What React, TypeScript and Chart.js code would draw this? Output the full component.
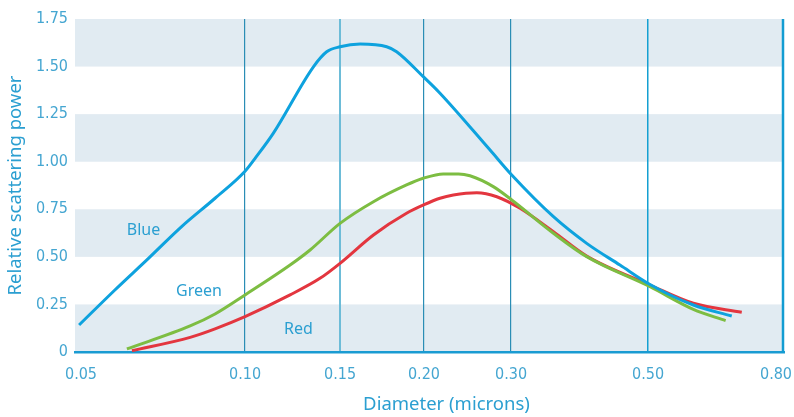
import React, { useEffect, useRef } from "react";
import { Chart, registerables, LinearScale } from "chart.js";

// ---- data ----
const X_TICKS = [0.05, 0.1, 0.15, 0.2, 0.3, 0.5, 0.8];
const X_TICK_LABELS = ["0.05", "0.10", "0.15", "0.20", "0.30", "0.50", "0.80"];
const Y_TICKS = [0, 0.25, 0.5, 0.75, 1.0, 1.25, 1.5, 1.75];
const Y_TICK_LABELS = ["0", "0.25", "0.50", "0.75", "1.00", "1.25", "1.50", "1.75"];

const blueD = [0.0496, 0.0577, 0.0665, 0.0765, 0.0881, 0.1, 0.1044, 0.1128, 0.1339, 0.1417, 0.15, 0.1607, 0.176, 0.1821, 0.1995, 0.2155, 0.2721, 0.3008, 0.3514, 0.3978, 0.4503, 0.5037, 0.5906, 0.68];
const blueV = [0.142, 0.326, 0.492, 0.659, 0.808, 0.95, 1.018, 1.149, 1.499, 1.578, 1.604, 1.618, 1.604, 1.578, 1.447, 1.36, 1.061, 0.93, 0.711, 0.571, 0.457, 0.355, 0.247, 0.189];

const greenD = [0.0607, 0.0793, 0.0881, 0.1, 0.1212, 0.132, 0.15, 0.1682, 0.1884, 0.1995, 0.2188, 0.2350, 0.2478, 0.2762, 0.3008, 0.3514, 0.3978, 0.5037, 0.5906, 0.665];
const greenV = [0.016, 0.137, 0.2, 0.3, 0.457, 0.536, 0.676, 0.79, 0.878, 0.913, 0.936, 0.936, 0.926, 0.869, 0.799, 0.624, 0.501, 0.343, 0.224, 0.165];

const redD = [0.062, 0.0793, 0.0881, 0.1, 0.1212, 0.1377, 0.15, 0.1682, 0.1884, 0.1995, 0.2155, 0.2293, 0.2558, 0.2808, 0.3102, 0.3514, 0.3978, 0.5037, 0.5906, 0.7055];
const redV = [0.007, 0.077, 0.122, 0.186, 0.3, 0.387, 0.466, 0.615, 0.729, 0.772, 0.808, 0.825, 0.837, 0.816, 0.755, 0.632, 0.504, 0.352, 0.256, 0.209];

const SERIES_NAMES = ["Blue", "Green", "Red"];
const SERIES_COLORS = ["#0ea2de", "#7dbd42", "#e3363f"];
// label anchors in data units (diameter, value)
const LABEL_D = [0.0651, 0.0823, 0.1256];
const LABEL_V = [0.641, 0.318, 0.116];

// ---- styling / layout ----
const TEXT_BLUE = "#2b9fd1";
const TICK_BLUE = "#45a6d1";
const BAND = "#e1ebf2";
const NARROW = "'Liberation Sans Narrow', 'DejaVu Sans Condensed', 'Arial Narrow', sans-serif";
const SANS = "'Noto Sans', 'Open Sans', sans-serif";
// fraction of plot width where each x tick sits (the original axis is hand-spaced)
const WARP_DEC = [0.00846, 0.2398, 0.3738, 0.4922, 0.615, 0.8082, 0.9887];

function warp(d: number): number {
  const L = Math.log(d);
  let i = 0;
  while (i < X_TICKS.length - 2 && L > Math.log(X_TICKS[i + 1])) i++;
  const l0 = Math.log(X_TICKS[i]);
  const l1 = Math.log(X_TICKS[i + 1]);
  return WARP_DEC[i] + ((L - l0) / (l1 - l0)) * (WARP_DEC[i + 1] - WARP_DEC[i]);
}
function unwarp(f: number): number {
  let i = 0;
  while (i < WARP_DEC.length - 2 && f > WARP_DEC[i + 1]) i++;
  const l0 = Math.log(X_TICKS[i]);
  const l1 = Math.log(X_TICKS[i + 1]);
  return Math.exp(l0 + ((f - WARP_DEC[i]) / (WARP_DEC[i + 1] - WARP_DEC[i])) * (l1 - l0));
}

class WarpScale extends LinearScale {
  static id = "warp";
  static defaults = {};
  buildTicks() {
    return X_TICKS.map((v) => ({ value: v }));
  }
  getPixelForValue(v: number) {
    if (v === null || v === undefined || isNaN(v)) return NaN;
    return this.getPixelForDecimal(warp(v));
  }
  getValueForPixel(p: number) {
    return unwarp(this.getDecimalForPixel(p));
  }
}

Chart.register(...registerables, WarpScale as any);

const toPoints = (d: number[], v: number[]) => d.map((x, i) => ({ x, y: v[i] }));

const X_GRID_COLORS = ["rgba(0,0,0,0)", "#2a8db5", "#6dbcd8", "#2a8db5", "#2a8db5", "#14a0d2", "rgba(0,0,0,0)"];
const X_GRID_WIDTHS = [1, 1.2, 2, 1.2, 1.2, 1.5, 1];

const bandsPlugin = {
  id: "bands",
  beforeDraw(chart: any) {
    const { ctx, chartArea, scales } = chart;
    const y = scales.y;
    ctx.save();
    ctx.fillStyle = BAND;
    for (let i = 0; i < Y_TICKS.length - 1; i += 2) {
      const top = y.getPixelForValue(Y_TICKS[i + 1]);
      const bot = y.getPixelForValue(Y_TICKS[i]);
      ctx.fillRect(chartArea.left, top, chartArea.right - chartArea.left, bot - top);
    }
    ctx.restore();
  },
  afterDraw(chart: any) {
    const { ctx, chartArea, scales } = chart;
    ctx.save();
    ctx.strokeStyle = "#129cd2";
    ctx.lineWidth = 2.5;
    ctx.beginPath();
    ctx.moveTo(chartArea.right - 1, chartArea.top);
    ctx.lineTo(chartArea.right - 1, chartArea.bottom + 1);
    ctx.stroke();
    ctx.fillStyle = TEXT_BLUE;
    ctx.textAlign = "center";
    ctx.textBaseline = "middle";
    ctx.font = `16px ${SANS}`;
    SERIES_NAMES.forEach((n, i) => {
      ctx.fillText(n, scales.x.getPixelForValue(LABEL_D[i]), scales.y.getPixelForValue(LABEL_V[i]));
    });
    ctx.font = `18.5px ${SANS}`;
    ctx.fillText("Diameter (microns)", (chartArea.left + chartArea.right) / 2 + 17, 405);
    ctx.restore();
  },
};

export default function App() {
  const ref = useRef<HTMLCanvasElement | null>(null);
  useEffect(() => {
    if (!ref.current) return;
    const chart = new Chart(ref.current, {
      type: "line",
      data: {
        datasets: [
          { label: SERIES_NAMES[0], data: toPoints(blueD, blueV), borderColor: SERIES_COLORS[0] },
          { label: SERIES_NAMES[1], data: toPoints(greenD, greenV), borderColor: SERIES_COLORS[1] },
          { label: SERIES_NAMES[2], data: toPoints(redD, redV), borderColor: SERIES_COLORS[2] },
        ].map((ds) => ({
          ...ds,
          borderWidth: 3,
          pointRadius: 0,
          fill: false,
          cubicInterpolationMode: "monotone" as const,
        })),
      },
      options: {
        animation: false,
        responsive: false,
        layout: { padding: { top: 19, right: 10, left: 0, bottom: 0 } },
        plugins: { legend: { display: false }, tooltip: { enabled: false } },
        scales: {
          x: {
            type: "warp" as any,
            grid: {
              drawTicks: false,
              color: (c: any) => X_GRID_COLORS[c.index] ?? "rgba(0,0,0,0)",
              lineWidth: (c: any) => X_GRID_WIDTHS[c.index] ?? 1,
            },
            border: { display: true, color: "#1a9bd2", width: 2.5 },
            ticks: {
              autoSkip: false,
              maxRotation: 0,
              padding: 13,
              color: TICK_BLUE,
              font: { family: NARROW, size: 16 },
              callback: (_v: any, i: number) => X_TICK_LABELS[i],
            },
            title: { display: false },
            afterFit: (s: any) => {
              s.height = 65;
              s.paddingLeft = 0;
              s.paddingRight = 0;
            },
          },
          y: {
            min: 0,
            max: 1.75,
            afterBuildTicks: (s: any) => {
              s.ticks = Y_TICKS.map((v) => ({ value: v }));
            },
            grid: { display: false, drawTicks: false },
            border: { display: false },
            ticks: {
              padding: 7,
              color: TICK_BLUE,
              font: { family: NARROW, size: 16 },
              callback: (_v: any, i: number) => Y_TICK_LABELS[i],
            },
            title: {
              display: true,
              text: "Relative scattering power",
              color: TEXT_BLUE,
              font: { family: SANS, size: 18.5 },
              padding: { top: 5, bottom: 0 },
            },
            afterFit: (s: any) => {
              s.width = 75;
              s.paddingTop = 0;
              s.paddingBottom = 0;
            },
          },
        },
      },
      plugins: [bandsPlugin],
    });
    return () => chart.destroy();
  }, []);
  return (
    <div style={{ position: "absolute", left: 0, top: 0, width: 794, height: 417 }}>
      <canvas ref={ref} width={794} height={417} />
    </div>
  );
}
